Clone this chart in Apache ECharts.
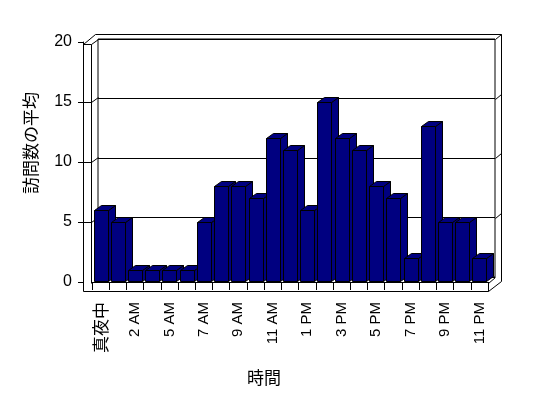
<!DOCTYPE html>
<html><head><meta charset="utf-8">
<script src="https://cdn.jsdelivr.net/npm/echarts@6/dist/echarts.min.js"></script>
<style>html,body{margin:0;padding:0;background:#fff}#c{width:548px;height:398px}</style>
</head><body><div id="c"></div>
<script>
var categories = ["真夜中","1 AM","2 AM","3 AM","5 AM","6 AM","7 AM","8 AM","9 AM","10 AM","11 AM","正午","1 PM","2 PM","3 PM","4 PM","5 PM","6 PM","7 PM","8 PM","9 PM","10 PM","11 PM"];
var visits = [6,5,1,1,1,1,5,8,8,7,12,11,6,15,12,11,8,7,2,13,5,5,2];
var yMin = 0, yMax = 20, yStep = 5;
var xTitle = "時間";
var yTitle = "訪問数の平均";

var NAVY = '#000080';
var DX = 7, DY = -5;
var G0 = {left: 92, top: 42, width: 396, height: 240};
var G1 = {left: 98, top: 39, width: 397, height: 238};

function ln(x1, y1, x2, y2) {
  return {type: 'line', silent: true, shape: {x1: x1, y1: y1, x2: x2, y2: y2},
    style: {stroke: '#000', lineWidth: 1}, z: 1};
}

var chart = echarts.init(document.getElementById('c'), null, {renderer: 'canvas'});

function frame() {
  var g = [];
  var fL = 83.5, fIn = 91.5, fTop = 44.5, fB = 283.5, fBot = 291.5, fR = 488.5;
  var bTop = 34.5, bIn = 39.5, bR = 495.5, bRo = 501.5, bB = 277.5;
  g.push(ln(fL, fTop, fL, fBot));
  g.push(ln(fIn, fTop, fIn, fB));
  g.push(ln(fL, fTop, fIn, fTop));
  g.push(ln(fL, fTop, 95.5, bTop));
  g.push(ln(fIn, fTop, 98.5, bIn));
  g.push(ln(95.5, bTop, bRo, bTop));
  g.push(ln(bRo, bTop, bRo, 281.5));
  g.push(ln(bR, bIn, bRo, bTop));
  g.push(ln(fL, fBot, fR, fBot));
  g.push(ln(fR, fB, fR, fBot));
  g.push(ln(fR, fB, bR, bB));
  g.push(ln(fR, fBot, bRo, 281.5));
  for (var v = yMin; v <= yMax; v += yStep) {
    var yf = Math.round(chart.convertToPixel({yAxisIndex: 0}, v)) + 0.5;
    var yb = Math.round(chart.convertToPixel({yAxisIndex: 1}, v)) + 0.5;
    if (v > yMin && v < yMax) {
      g.push(ln(fL, yf, fIn, yf));
      g.push(ln(fIn, yf, 98.5, yf - 5));
      g.push(ln(bR, yb, bRo, yb - 5));
    }
  }
  g.push({type: 'text', left: 22, top: 92, rotation: Math.PI / 2,
    style: {text: yTitle, font: '17px "Noto Sans CJK JP"', fill: '#000'}});
  return g;
}

var option = {
  animation: false,
  backgroundColor: '#fff',
  title: {text: xTitle, left: 259, top: 364, textAlign: 'center',
    textStyle: {fontFamily: 'Noto Sans CJK JP', fontSize: 17, fontWeight: 'normal', color: '#000'}},
  grid: [
    {left: G0.left, top: G0.top, width: G0.width, height: G0.height, containLabel: false},
    {left: G1.left, top: G1.top, width: G1.width, height: G1.height, show: true,
      borderColor: '#000', borderWidth: 1, backgroundColor: 'transparent', z: 0}
  ],
  xAxis: [
    {type: 'category', gridIndex: 0, data: categories, boundaryGap: true,
      axisLine: {show: true, lineStyle: {color: '#000', width: 1}},
      axisTick: {show: true, interval: 0, length: 8, lineStyle: {color: '#000'}},
      axisLabel: {interval: 1, rotate: 90, margin: 20, color: '#000', fontSize: 15,
        fontFamily: '"Liberation Sans", "Noto Sans CJK JP", sans-serif',
        formatter: function (s) { return /^[\x00-\x7f]*$/.test(s) ? s : '{j|' + s + '}'; },
        rich: {j: {fontSize: 17, fontFamily: 'Noto Sans CJK JP', color: '#000'}}},
      splitLine: {show: false}, z: 3},
    {type: 'value', gridIndex: 1, min: 0, max: 1, show: false}
  ],
  yAxis: [
    {type: 'value', gridIndex: 0, min: yMin, max: yMax, interval: yStep, offset: 9,
      axisLine: {show: true, lineStyle: {color: '#000'}},
      axisTick: {show: true, length: 5, lineStyle: {color: '#000'}},
      axisLabel: {color: '#000', fontSize: 16, margin: 11, fontFamily: '"Liberation Sans", Arial, sans-serif'},
      splitLine: {show: false}},
    {type: 'value', gridIndex: 1, min: yMin, max: yMax, interval: yStep,
      axisLine: {show: false}, axisTick: {show: false}, axisLabel: {show: false},
      splitLine: {show: true, lineStyle: {color: '#000', width: 1}}}
  ],
  series: [{
    type: 'custom', xAxisIndex: 0, yAxisIndex: 0, z: 5,
    data: visits.map(function (v, i) { return [i, v]; }),
    renderItem: function (params, api) {
      var i = api.value(0), v = api.value(1);
      var top = api.coord([i, v]);
      var base = api.coord([i, 0]);
      var bw = 14;
      var x0 = Math.round(top[0] - bw / 2) + 0.5, x1 = x0 + bw;
      var y0 = Math.round(top[1]) + 0.5, y1 = Math.round(base[1]) - 0.5;
      var st = {fill: NAVY, stroke: '#000', lineWidth: 1};
      return {type: 'group', children: [
        {type: 'polygon', shape: {points: [[x1, y0], [x1 + DX, y0 + DY], [x1 + DX, y1 + DY], [x1, y1]]}, style: st},
        {type: 'polygon', shape: {points: [[x0, y0], [x0 + DX, y0 + DY], [x1 + DX, y0 + DY], [x1, y0]]}, style: st},
        {type: 'rect', shape: {x: x0, y: y0, width: bw, height: y1 - y0}, style: st}
      ]};
    }
  }]
};
chart.setOption(option);
chart.setOption({graphic: frame()});
</script></body></html>
